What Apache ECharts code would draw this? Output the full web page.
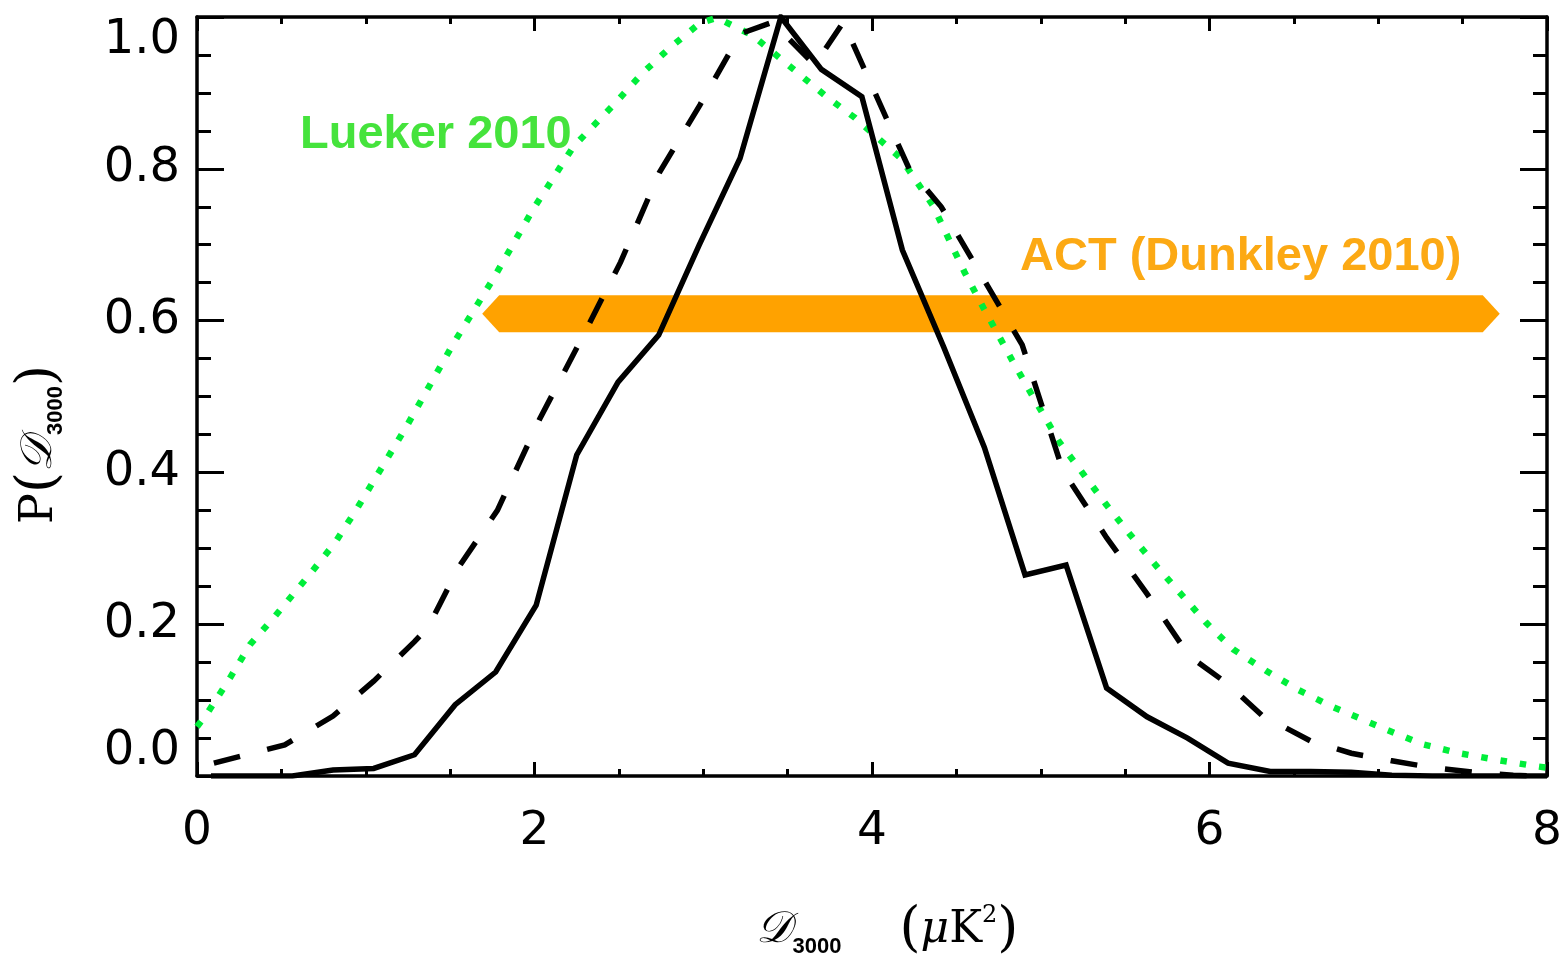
<!DOCTYPE html>
<html>
<head>
<meta charset="utf-8">
<script src="https://cdn.jsdelivr.net/npm/echarts@6/dist/echarts.min.js"></script>
<style>
  html, body { margin: 0; padding: 0; background: #fff; }
  #chart { width: 1565px; height: 963px; }
</style>
</head>
<body>
<div id="chart"></div>
<script>
// Axis ticks
const xTicks = [0, 2, 4, 6, 8];
const yTicks = [0.0, 0.2, 0.4, 0.6, 0.8, 1.0];

// Posterior of D3000, solid curve
const solidCurve = [
  [0.083, 0.0], [0.324, 0.0], [0.565, 0.0], [0.806, 0.008], [1.047, 0.010],
  [1.289, 0.028], [1.530, 0.094], [1.770, 0.137], [2.010, 0.225], [2.250, 0.423],
  [2.495, 0.519], [2.736, 0.581], [2.977, 0.700], [3.218, 0.814], [3.460, 1.000],
  [3.700, 0.931], [3.940, 0.895], [4.180, 0.693], [4.425, 0.565], [4.666, 0.433],
  [4.907, 0.265], [5.150, 0.278], [5.390, 0.116], [5.630, 0.078], [5.870, 0.050],
  [6.110, 0.017], [6.360, 0.006], [6.600, 0.006], [6.840, 0.005], [7.080, 0.001],
  [7.320, 0.0], [7.560, 0.0], [7.800, 0.0], [8.0, 0.0]
];

// Posterior of D3000, dashed curve
const dashedCurve = [
  [0.10, 0.017], [0.52, 0.041], [0.806, 0.079], [1.047, 0.125], [1.289, 0.177],
  [1.37, 0.196], [1.55, 0.275], [1.78, 0.350], [2.03, 0.470], [2.26, 0.568],
  [2.51, 0.677], [2.74, 0.795], [2.98, 0.884], [3.22, 0.978], [3.41, 0.993],
  [3.66, 0.937], [3.83, 0.993], [4.22, 0.800], [4.41, 0.750], [4.89, 0.568],
  [5.13, 0.403], [5.39, 0.314], [5.63, 0.240], [5.88, 0.158], [6.11, 0.121],
  [6.31, 0.080], [6.60, 0.046], [6.84, 0.030], [7.08, 0.020], [7.32, 0.011],
  [7.56, 0.005], [7.80, 0.001], [7.90, 0.0]
];

// Lueker 2010 constraint, dotted curve
const luekerCurve = [
  [0.0, 0.065], [0.065, 0.084], [0.195, 0.129], [0.314, 0.173], [0.46, 0.210],
  [0.68, 0.269], [0.82, 0.308], [0.95, 0.353], [1.24, 0.460], [1.52, 0.570],
  [1.75, 0.653], [1.99, 0.746], [2.23, 0.829], [2.48, 0.887], [2.64, 0.926],
  [2.80, 0.959], [2.98, 0.992], [3.08, 0.999], [3.29, 0.976], [3.47, 0.943],
  [3.73, 0.895], [3.90, 0.867], [4.17, 0.814], [4.36, 0.752], [4.55, 0.663],
  [4.66, 0.617], [4.83, 0.548], [4.94, 0.505], [5.11, 0.440], [5.39, 0.357],
  [5.53, 0.318], [5.68, 0.278], [5.83, 0.240], [5.98, 0.202], [6.14, 0.167],
  [6.34, 0.138], [6.53, 0.113], [6.73, 0.091], [7.05, 0.061], [7.26, 0.042],
  [7.48, 0.030], [7.71, 0.021], [7.93, 0.013], [8.0, 0.011]
];

// ACT (Dunkley 2010) range: [low, high] and the level it is drawn at
const actRange = [1.69, 7.72];
const actLevel = 0.609;

const BLACK = '#000';
const GREEN_LINE = '#00ee3a';
const GREEN_TEXT = '#45e33c';
const ORANGE_BAND = '#ffa200';
const ORANGE_TEXT = '#fca914';

const chart = echarts.init(document.getElementById('chart'), null, { renderer: 'canvas' });

function frameAxis(pos, isX, showLabels) {
  const ticks = isX ? xTicks : yTicks;
  const majorLen = isX ? 14 : 27;
  const minorLen = isX ? 7 : 14;
  const ax = {
    type: 'value',
    position: pos,
    min: ticks[0],
    max: ticks[ticks.length - 1],
    interval: ticks[1] - ticks[0],
    axisLine: { show: true, onZero: false, lineStyle: { color: BLACK, width: 3.5 } },
    axisTick: { show: true, inside: true, length: majorLen, lineStyle: { color: BLACK, width: 3 } },
    minorTick: { show: true, splitNumber: 4, length: minorLen, lineStyle: { color: BLACK, width: 3 } },
    splitLine: { show: false },
    minorSplitLine: { show: false },
    axisLabel: { show: false }
  };
  if (showLabels) {
    ax.axisLabel = isX ? {
      show: true,
      margin: 32,
      fontFamily: 'DejaVu Sans',
      fontSize: 47,
      color: BLACK,
      formatter: v => String(v)
    } : {
      show: true,
      margin: 17,
      fontFamily: 'DejaVu Sans',
      fontSize: 48,
      color: BLACK,
      formatter: v => v.toFixed(1),
      verticalAlignMinLabel: 'bottom',
      verticalAlignMaxLabel: 'top'
    };
  }
  return ax;
}

const xMain = frameAxis('bottom', true, true);
xMain.name = '{d|𝒟}{s|3000}{gap| }{p|(}{mu|μ}{k|K}{sup|2}{p|)}';
xMain.nameLocation = 'middle';
xMain.nameGap = 128;
xMain.nameTextStyle = {
  color: BLACK,
  padding: [0, 0, 0, 30],
  rich: {
    d: { fontFamily: 'DejaVu Serif', fontSize: 44, fontStyle: 'italic', color: BLACK, verticalAlign: 'middle' },
    s: { fontFamily: 'Liberation Sans', fontWeight: 'bold', fontSize: 22, color: BLACK, verticalAlign: 'bottom', padding: [18, 0, 0, 2] },
    gap: { width: 58 },
    p: { fontFamily: 'DejaVu Serif', fontSize: 54, color: BLACK, verticalAlign: 'middle' },
    mu: { fontFamily: 'DejaVu Serif', fontStyle: 'italic', fontSize: 44, color: BLACK, verticalAlign: 'middle' },
    k: { fontFamily: 'DejaVu Serif', fontSize: 44, color: BLACK, verticalAlign: 'middle' },
    sup: { fontFamily: 'DejaVu Serif', fontSize: 24, color: BLACK, verticalAlign: 'top', padding: [0, 0, 14, 0] }
  }
};

const yMain = frameAxis('left', false, true);
yMain.name = '{p|P}{b|(}{d|𝒟}{s|3000}{b|)}';
yMain.nameLocation = 'middle';
yMain.nameGap = 130;
yMain.nameTextStyle = {
  color: BLACK,
  padding: [0, 96, 0, 0],
  rich: {
    p: { fontFamily: 'DejaVu Serif', fontSize: 46, color: BLACK, verticalAlign: 'middle' },
    b: { fontFamily: 'DejaVu Serif', fontSize: 54, color: BLACK, verticalAlign: 'middle' },
    d: { fontFamily: 'DejaVu Serif', fontSize: 44, fontStyle: 'italic', color: BLACK, verticalAlign: 'middle' },
    s: { fontFamily: 'Liberation Sans', fontWeight: 'bold', fontSize: 22, color: BLACK, verticalAlign: 'bottom', padding: [18, 0, 0, 2] }
  }
};

const option = {
  animation: false,
  backgroundColor: '#fff',
  grid: { left: 197, right: 18, top: 17, bottom: 187, containLabel: false },
  xAxis: [xMain, frameAxis('top', true, false)],
  yAxis: [yMain, frameAxis('right', false, false)],
  graphic: [
    {
      type: 'text', x: 300, y: 135, z: 10,
      style: { text: 'Lueker 2010', font: 'bold 47px "Liberation Sans"', fill: GREEN_TEXT, verticalAlign: 'middle' }
    },
    {
      type: 'text', x: 1020, y: 257, z: 10,
      style: { text: 'ACT (Dunkley 2010)', font: 'bold 47px "Liberation Sans"', fill: ORANGE_TEXT, verticalAlign: 'middle' }
    }
  ],
  series: [
    {
      // ACT interval, drawn as a bar with pointed ends
      type: 'custom',
      xAxisIndex: 0, yAxisIndex: 0,
      z: 1,
      data: [[actRange[0], actRange[1], actLevel]],
      encode: { x: [0, 1], y: 2 },
      renderItem: function (params, api) {
        const a = api.coord([api.value(0), api.value(2)]);
        const b = api.coord([api.value(1), api.value(2)]);
        const h = 18.5, tip = 17;
        return {
          type: 'polygon',
          shape: {
            points: [
              [a[0], a[1]], [a[0] + tip, a[1] - h], [b[0] - tip, b[1] - h],
              [b[0], b[1]], [b[0] - tip, b[1] + h], [a[0] + tip, a[1] + h]
            ]
          },
          style: { fill: ORANGE_BAND }
        };
      }
    },
    {
      type: 'line', xAxisIndex: 0, yAxisIndex: 0, z: 3,
      data: luekerCurve, showSymbol: false, symbol: 'none', smooth: false,
      lineStyle: { color: GREEN_LINE, width: 6.5, type: [6.5, 13], cap: 'butt' }
    },
    {
      type: 'line', xAxisIndex: 0, yAxisIndex: 0, z: 4,
      data: dashedCurve, showSymbol: false, symbol: 'none',
      lineStyle: { color: BLACK, width: 5.5, type: [27, 28], cap: 'butt', join: 'miter' }
    },
    {
      type: 'line', xAxisIndex: 0, yAxisIndex: 0, z: 5,
      data: solidCurve, showSymbol: false, symbol: 'none',
      lineStyle: { color: BLACK, width: 5.5, join: 'miter' }
    }
  ]
};

chart.setOption(option);
</script>
</body>
</html>
